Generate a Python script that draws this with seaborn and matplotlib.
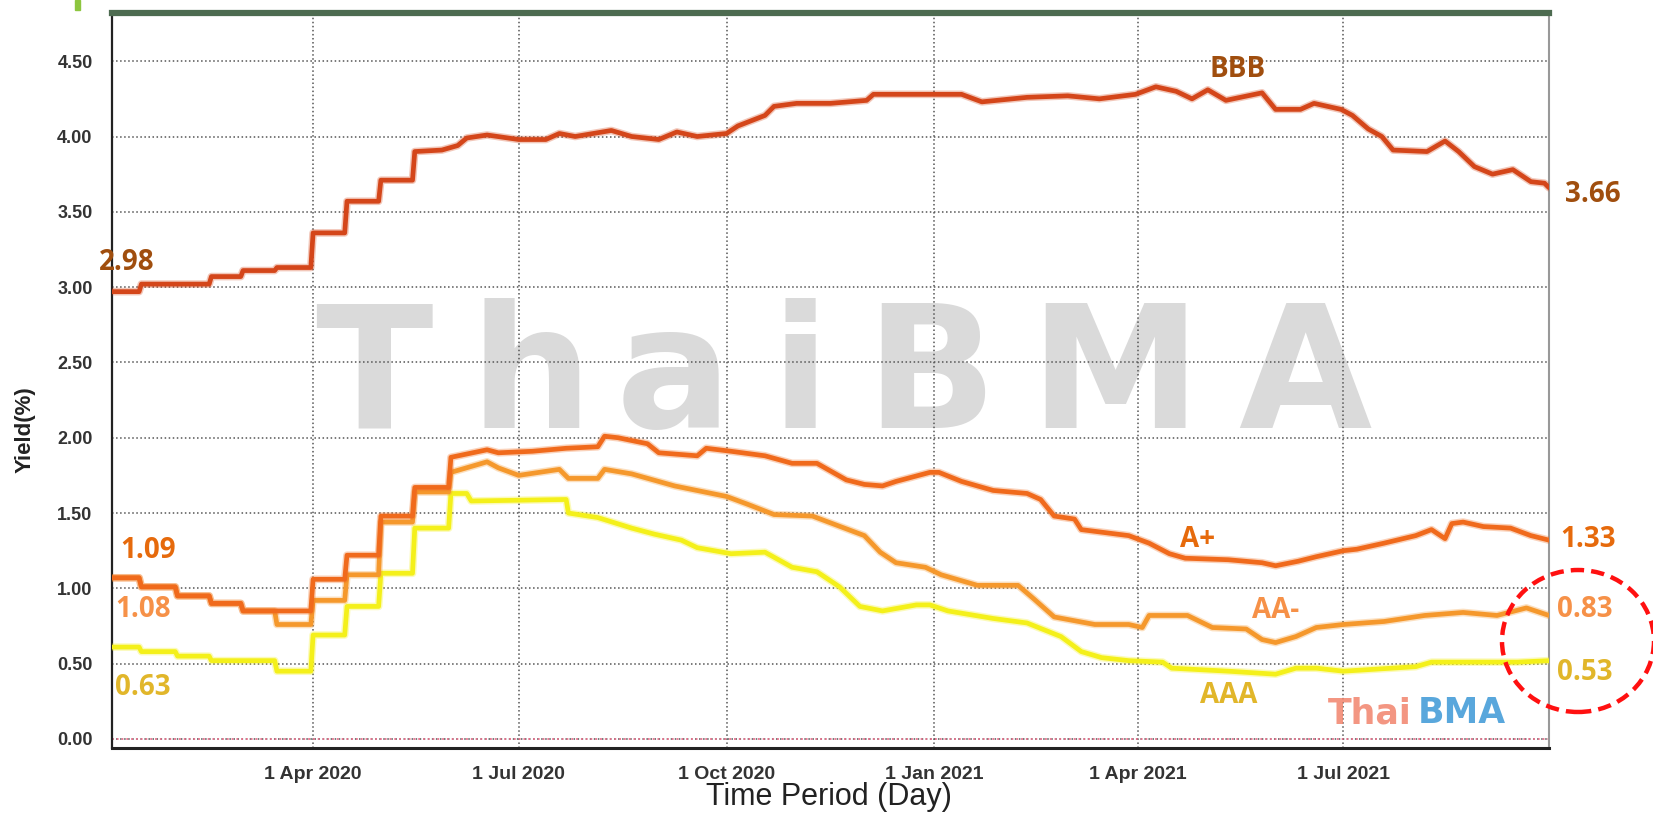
# Corporate bond yield curve (ThaiBMA) - BBB / A+ / AA- / AAA
import numpy as np
import pandas as pd
import matplotlib
matplotlib.use('Agg')
import matplotlib.pyplot as plt
import matplotlib.patheffects as pe
from matplotlib.patches import Ellipse, Rectangle
import seaborn as sns

sns.set_style('white')
plt.rcParams['font.family'] = ['Liberation Sans', 'DejaVu Sans']

# ==================== data ====================
bbb_dates = ['2020-01-03', '2020-01-15', '2020-01-16', '2020-02-15', '2020-02-16', '2020-02-29',
             '2020-03-01', '2020-03-15', '2020-03-16', '2020-03-31', '2020-04-01', '2020-04-15',
             '2020-04-16', '2020-04-30', '2020-05-01', '2020-05-15', '2020-05-16', '2020-05-28',
             '2020-06-04', '2020-06-08', '2020-06-17', '2020-07-01', '2020-07-13', '2020-07-19',
             '2020-07-26', '2020-08-11', '2020-08-20', '2020-09-01', '2020-09-09', '2020-09-18',
             '2020-10-01', '2020-10-06', '2020-10-18', '2020-10-22', '2020-11-01', '2020-11-16',
             '2020-12-02', '2020-12-05', '2021-01-13', '2021-01-22', '2021-02-11', '2021-03-01',
             '2021-03-15', '2021-03-31', '2021-04-09', '2021-04-18', '2021-04-25', '2021-05-02',
             '2021-05-10', '2021-05-26', '2021-06-01', '2021-06-12', '2021-06-18', '2021-06-30',
             '2021-07-05', '2021-07-12', '2021-07-18', '2021-07-23', '2021-08-07', '2021-08-15',
             '2021-08-21', '2021-08-28', '2021-09-05', '2021-09-14', '2021-09-22', '2021-09-28',
             '2021-09-30']
bbb_vals = [2.97, 2.97, 3.02, 3.02, 3.07, 3.07,
            3.11, 3.11, 3.13, 3.13, 3.36, 3.36,
            3.57, 3.57, 3.71, 3.71, 3.90, 3.91,
            3.94, 3.99, 4.01, 3.98, 3.98, 4.02,
            4.00, 4.04, 4.00, 3.98, 4.03, 4.00,
            4.02, 4.07, 4.14, 4.20, 4.22, 4.22,
            4.24, 4.28, 4.28, 4.23, 4.26, 4.27,
            4.25, 4.28, 4.33, 4.30, 4.25, 4.31,
            4.24, 4.29, 4.18, 4.18, 4.22, 4.18,
            4.14, 4.05, 4.00, 3.91, 3.90, 3.97,
            3.90, 3.80, 3.75, 3.78, 3.70, 3.69,
            3.66]

aplus_dates = ['2020-01-03', '2020-01-15', '2020-01-16', '2020-01-31', '2020-02-01', '2020-02-15',
               '2020-02-16', '2020-02-29', '2020-03-01', '2020-03-31', '2020-04-01', '2020-04-15',
               '2020-04-16', '2020-04-30', '2020-05-01', '2020-05-15', '2020-05-16', '2020-05-31',
               '2020-06-01', '2020-06-17', '2020-06-22', '2020-07-07', '2020-07-22', '2020-08-05',
               '2020-08-08', '2020-08-14', '2020-08-27', '2020-09-01', '2020-09-18', '2020-09-22',
               '2020-10-03', '2020-10-18', '2020-10-30', '2020-11-10', '2020-11-23', '2020-12-01',
               '2020-12-09', '2020-12-15', '2020-12-30', '2021-01-03', '2021-01-13', '2021-01-27',
               '2021-02-11', '2021-02-17', '2021-02-23', '2021-03-04', '2021-03-07', '2021-03-28',
               '2021-04-06', '2021-04-15', '2021-04-22', '2021-05-11', '2021-05-26', '2021-06-01',
               '2021-06-11', '2021-06-19', '2021-07-01', '2021-07-07', '2021-07-19', '2021-08-02',
               '2021-08-09', '2021-08-15', '2021-08-18', '2021-08-23', '2021-09-01', '2021-09-13',
               '2021-09-22', '2021-09-30']
aplus_vals = [1.07, 1.07, 1.01, 1.01, 0.95, 0.95,
              0.90, 0.90, 0.85, 0.85, 1.06, 1.06,
              1.22, 1.22, 1.48, 1.48, 1.67, 1.67,
              1.87, 1.92, 1.90, 1.91, 1.93, 1.94,
              2.01, 2.00, 1.96, 1.90, 1.88, 1.93,
              1.91, 1.88, 1.83, 1.83, 1.72, 1.69,
              1.68, 1.71, 1.77, 1.77, 1.71, 1.65,
              1.63, 1.59, 1.48, 1.46, 1.39, 1.35,
              1.30, 1.23, 1.20, 1.19, 1.17, 1.15,
              1.18, 1.21, 1.25, 1.26, 1.30, 1.35,
              1.39, 1.33, 1.43, 1.44, 1.41, 1.40,
              1.35, 1.32]

aaminus_dates = ['2020-01-03', '2020-01-15', '2020-01-16', '2020-01-31', '2020-02-01', '2020-02-15',
                 '2020-02-16', '2020-02-29', '2020-03-01', '2020-03-15', '2020-03-16', '2020-03-31',
                 '2020-04-01', '2020-04-15', '2020-04-16', '2020-04-30', '2020-05-01', '2020-05-15',
                 '2020-05-16', '2020-05-31', '2020-06-01', '2020-06-17', '2020-06-22', '2020-07-01',
                 '2020-07-19', '2020-07-23', '2020-08-05', '2020-08-08', '2020-08-20', '2020-09-08',
                 '2020-10-01', '2020-10-10', '2020-10-22', '2020-11-08', '2020-12-01', '2020-12-08',
                 '2020-12-15', '2020-12-28', '2021-01-04', '2021-01-20', '2021-02-07', '2021-02-14',
                 '2021-02-23', '2021-03-13', '2021-03-28', '2021-04-03', '2021-04-06', '2021-04-23',
                 '2021-05-04', '2021-05-19', '2021-05-26', '2021-06-01', '2021-06-10', '2021-06-19',
                 '2021-07-01', '2021-07-19', '2021-08-06', '2021-08-23', '2021-09-07', '2021-09-20',
                 '2021-09-30']
aaminus_vals = [1.07, 1.07, 1.01, 1.01, 0.95, 0.95,
                0.90, 0.90, 0.85, 0.85, 0.76, 0.76,
                0.92, 0.92, 1.09, 1.09, 1.44, 1.44,
                1.64, 1.64, 1.77, 1.84, 1.80, 1.75,
                1.79, 1.73, 1.73, 1.79, 1.76, 1.68,
                1.61, 1.56, 1.49, 1.48, 1.35, 1.24,
                1.17, 1.14, 1.09, 1.02, 1.02, 0.93,
                0.81, 0.76, 0.76, 0.74, 0.82, 0.82,
                0.74, 0.73, 0.66, 0.64, 0.68, 0.74,
                0.76, 0.78, 0.82, 0.84, 0.82, 0.87,
                0.82]

aaa_dates = ['2020-01-03', '2020-01-15', '2020-01-16', '2020-01-31', '2020-02-01', '2020-02-15',
             '2020-02-16', '2020-03-15', '2020-03-16', '2020-03-31', '2020-04-01', '2020-04-15',
             '2020-04-16', '2020-04-30', '2020-05-01', '2020-05-15', '2020-05-16', '2020-05-31',
             '2020-06-01', '2020-06-08', '2020-06-10', '2020-07-22', '2020-07-23', '2020-08-05',
             '2020-08-20', '2020-08-30', '2020-09-11', '2020-09-18', '2020-10-03', '2020-10-18',
             '2020-10-30', '2020-11-10', '2020-11-20', '2020-11-29', '2020-12-09', '2020-12-24',
             '2020-12-30', '2021-01-07', '2021-01-27', '2021-02-11', '2021-02-26', '2021-03-07',
             '2021-03-16', '2021-03-28', '2021-04-12', '2021-04-16', '2021-05-11', '2021-06-01',
             '2021-06-10', '2021-06-19', '2021-07-01', '2021-08-02', '2021-08-09', '2021-09-16',
             '2021-09-30']
aaa_vals = [0.61, 0.61, 0.58, 0.58, 0.55, 0.55,
            0.52, 0.52, 0.45, 0.45, 0.69, 0.69,
            0.88, 0.88, 1.10, 1.10, 1.40, 1.40,
            1.63, 1.63, 1.58, 1.59, 1.50, 1.47,
            1.40, 1.36, 1.32, 1.27, 1.23, 1.24,
            1.14, 1.11, 1.01, 0.88, 0.85, 0.89,
            0.89, 0.85, 0.80, 0.77, 0.68, 0.58,
            0.54, 0.52, 0.51, 0.47, 0.45, 0.43,
            0.47, 0.47, 0.45, 0.48, 0.51, 0.51,
            0.52]

tick_dates = ['2020-04-01', '2020-07-01', '2020-10-01', '2021-01-01', '2021-04-01', '2021-07-01']
tick_labels = ['1 Apr 2020', '1 Jul 2020', '1 Oct 2020', '1 Jan 2021', '1 Apr 2021', '1 Jul 2021']
y_ticks = [0.0, 0.5, 1.0, 1.5, 2.0, 2.5, 3.0, 3.5, 4.0, 4.5]

# 起止值标注
start_labels = ['2.98', '1.09', '1.08', '0.63']
end_labels = ['3.66', '1.33', '0.83', '0.53']
series_names = ['BBB', 'A+', 'AA-', 'AAA']

# ==================== 画图 ====================
W, H = 1653, 816
fig = plt.figure(figsize=(W / 100, H / 100), dpi=100)
ax = fig.add_axes([112 / W, 1 - 748 / H, (1549 - 112) / W, (748 - 13) / H])

# 背景水印
wm_letters = ['T', 'h', 'a', 'i', 'B', 'M', 'A']
wm_centers = [374, 531, 674, 800, 931, 1115, 1305]
for ch, cx in zip(wm_letters, wm_centers):
    ax.text((cx - 112) / 1437, (748 - 428) / 735, ch, transform=ax.transAxes,
            ha='center', va='baseline', fontsize=124, fontweight='bold',
            color='#dadada', family='DejaVu Sans', zorder=0)

line_colors = {'AAA': '#f4f01a', 'AA-': '#f5982c', 'A+': '#f06a1c', 'BBB': '#d4461a'}
series = {
    'AAA': (aaa_dates, aaa_vals),
    'AA-': (aaminus_dates, aaminus_vals),
    'A+': (aplus_dates, aplus_vals),
    'BBB': (bbb_dates, bbb_vals),
}
for i, (name, (d, v)) in enumerate(series.items()):
    df = pd.DataFrame({'date': pd.to_datetime(d), 'yield': v})
    c = line_colors[name]
    sns.lineplot(data=df, x='date', y='yield', ax=ax, color=c, linewidth=3.4,
                 estimator=None, sort=False, zorder=3 + i,
                 path_effects=[pe.Stroke(linewidth=5.5, foreground=c, alpha=0.3), pe.Normal()])

ax.set_xlim(pd.Timestamp('2020-01-03'), pd.Timestamp('2021-09-30'))
ax.set_ylim(-0.06, 4.82)
ax.set_xticks(pd.to_datetime(tick_dates))
ax.set_xticklabels(tick_labels)
ax.set_yticks(y_ticks)
ax.set_yticklabels([f'{t:.2f}' for t in y_ticks])
ax.tick_params(axis='y', direction='out', length=5, width=1.5, color='#222', pad=9,
               labelsize=13, labelcolor='#333')
ax.tick_params(axis='x', direction='out', length=5, width=1.5, color='#222', pad=8,
               labelsize=14, labelcolor='#333')
for lab in ax.get_xticklabels() + ax.get_yticklabels():
    lab.set_fontweight('bold')

ax.grid(True, linestyle=':', color='#555', linewidth=1.1, zorder=1)
ax.set_axisbelow(True)
ax.axhline(0, color='#e8708c', linestyle=':', linewidth=1.3, zorder=2)

ax.spines['left'].set_color('#222')
ax.spines['left'].set_linewidth(1.6)
ax.spines['bottom'].set_color('#222')
ax.spines['bottom'].set_linewidth(2.2)
ax.spines['right'].set_color('#999')
ax.spines['right'].set_linewidth(1.5)
ax.spines['top'].set_color('#4d6b50')
ax.spines['top'].set_linewidth(4.5)

ax.set_xlabel('')
ax.set_ylabel('')
fig.text(25 / W, 1 - 430 / H, 'Yield(%)', rotation=90, ha='center', va='center',
         fontsize=16, fontweight='bold', color='#222')
fig.text(829 / W, 1 - 797 / H, 'Time Period (Day)', ha='center', va='center',
         fontsize=22, color='#222')

# 标注文字
lab_font = ['Open Sans', 'DejaVu Sans']
lab_colors = {'BBB': '#a04e0e', 'A+': '#e66a0c', 'AA-': '#f69148', 'AAA': '#e1b62a'}
start_pos = [(99, 270), (120, 558), (115, 617), (115, 695)]
end_pos = [(1565, 202), (1560, 547), (1557, 617), (1557, 680)]
name_pos = [(1209, 77), (1180, 547), (1252, 618), (1200, 703)]
for name, s, e, sp, ep, npos in zip(series_names, start_labels, end_labels,
                                    start_pos, end_pos, name_pos):
    c = lab_colors[name]
    for txt, (px, py) in [(s, sp), (e, ep), (name, npos)]:
        fig.text(px / W, 1 - py / H, txt, ha='left', va='baseline', fontsize=20,
                 fontweight='bold', color=c, family=lab_font)

# 右下角小水印
fig.text(1328 / W, 1 - 723 / H, 'Thai', ha='left', va='baseline', fontsize=25,
         fontweight='bold', color='#f2846c', alpha=0.85, family='DejaVu Sans')
fig.text(1418 / W, 1 - 723 / H, 'BMA', ha='left', va='baseline', fontsize=25,
         fontweight='bold', color='#3c98d6', alpha=0.85, family='DejaVu Sans')

# 红色虚线圈
fig.patches.append(Ellipse((1578 / W, 1 - 641 / H), 152 / W, 142 / H, transform=fig.transFigure,
                           fill=False, edgecolor='#ff1010', linewidth=3.2,
                           linestyle=(0, (3, 1.6)), zorder=10))
# 左上角绿色小块
fig.patches.append(Rectangle((75 / W, 1 - 10 / H), 5 / W, 10 / H, transform=fig.transFigure,
                             color='#8dc63f', zorder=10))

plt.savefig('out.png', dpi=100)
